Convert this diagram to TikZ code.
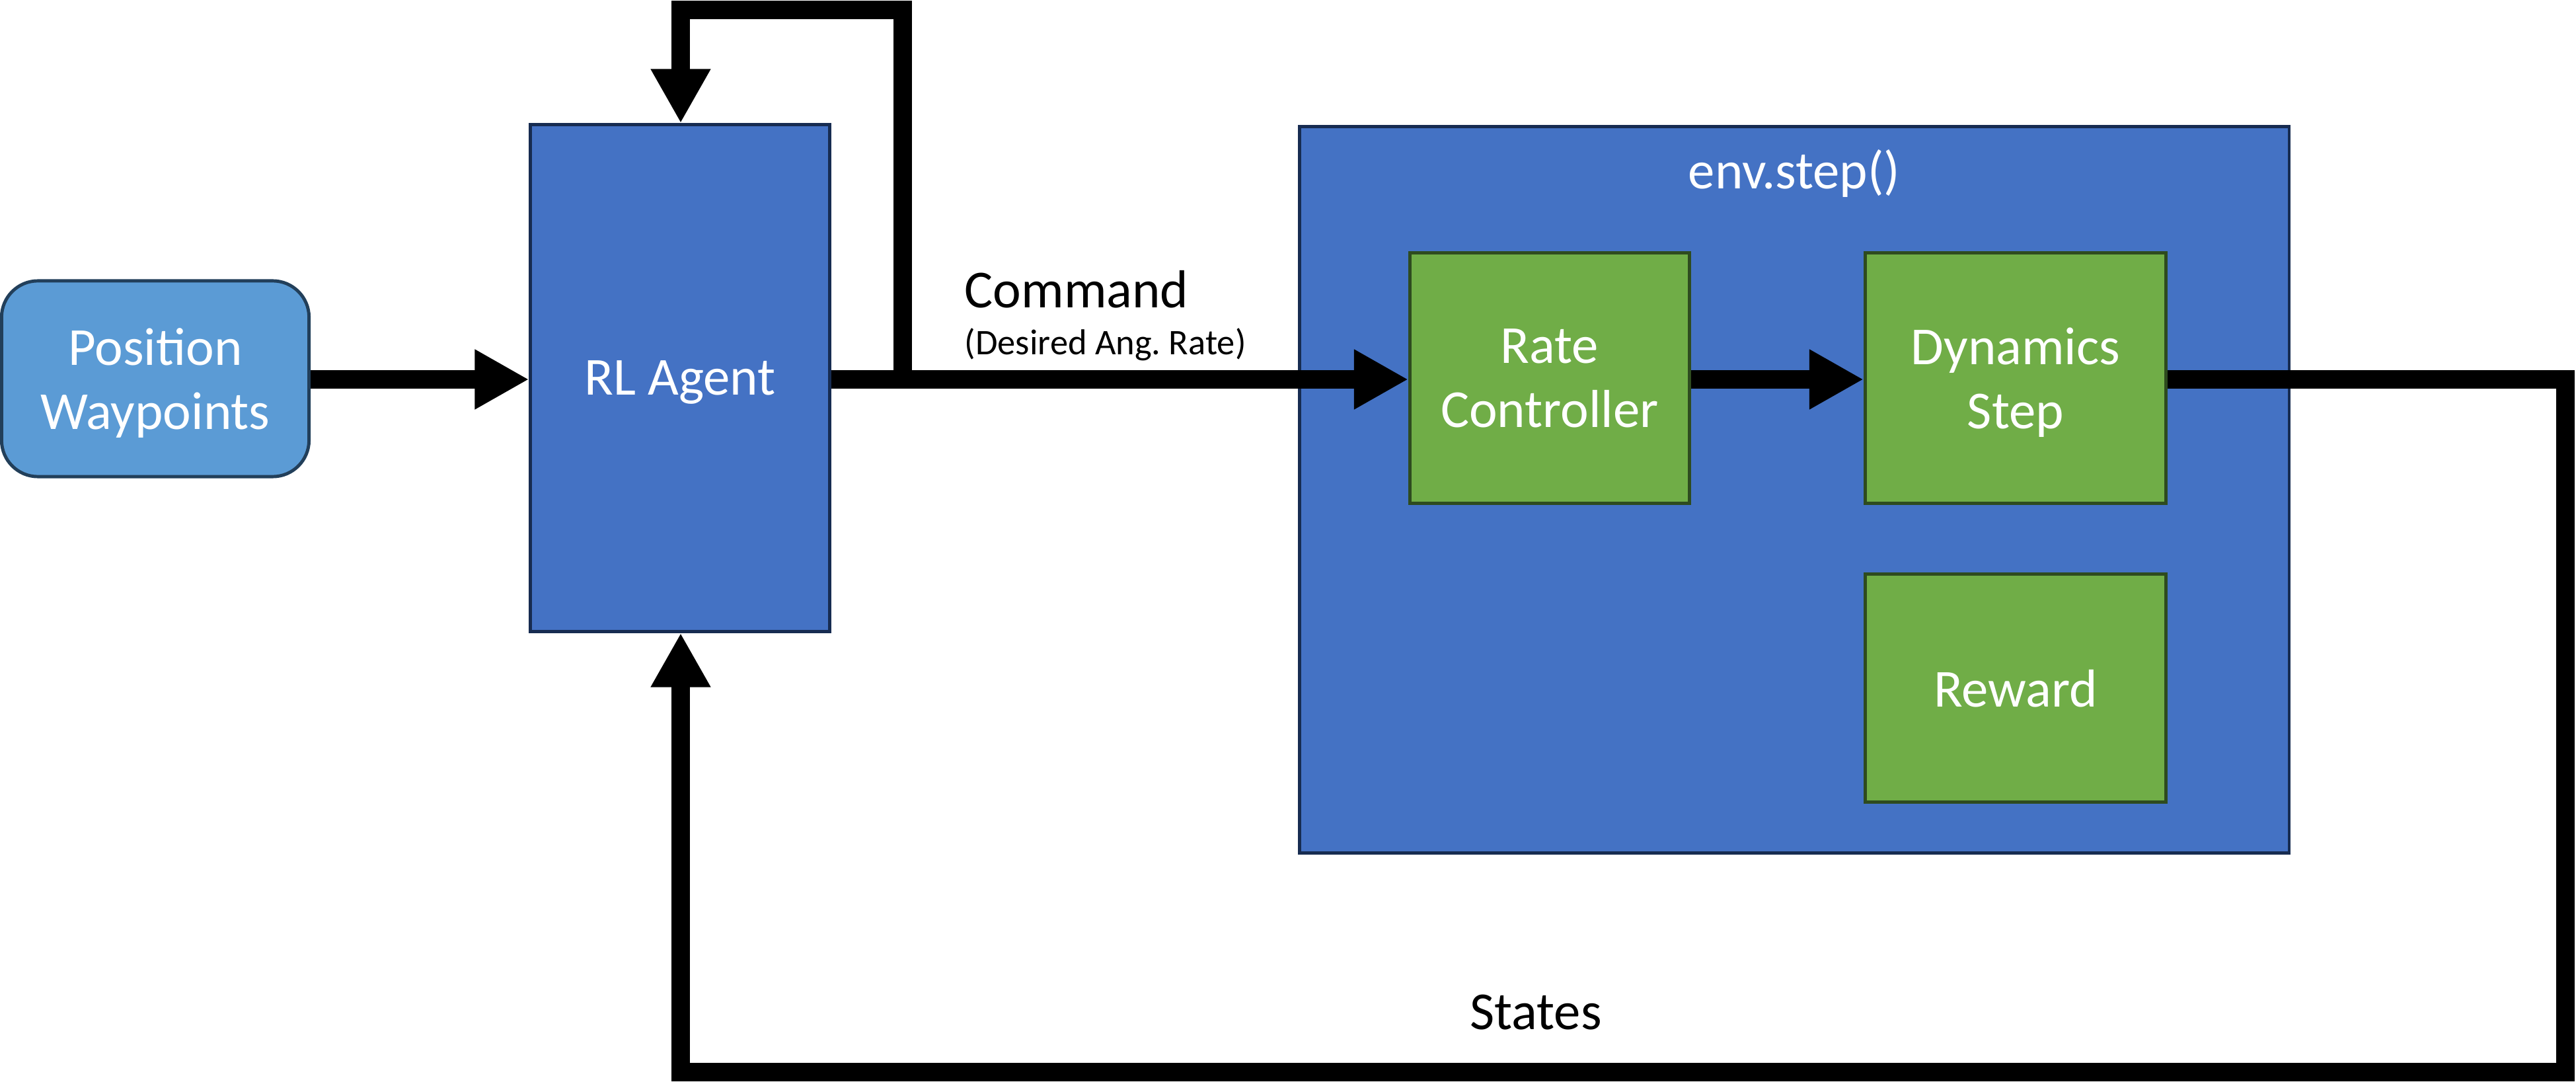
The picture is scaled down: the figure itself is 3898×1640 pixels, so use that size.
\documentclass[tikz,border=0pt]{standalone}
\usepackage{fontspec}
\setmainfont{Carlito}
\usetikzlibrary{arrows.meta}
\definecolor{agentblue}{HTML}{4472C4}
\definecolor{agentedge}{HTML}{172C51}
\definecolor{wpblue}{HTML}{5B9BD5}
\definecolor{wpedge}{HTML}{223F5A}
\definecolor{boxgreen}{HTML}{70AD47}
\definecolor{greenedge}{HTML}{2E4B1F}
\frenchspacing
\begin{document}
\begin{tikzpicture}[x=0.01cm,y=-0.01cm,
  lbl/.style={font=\fontsize{23}{27.6}\selectfont, text=white, align=center},
  bluebox/.style={lbl, draw=agentedge, fill=agentblue, line width=1.4pt, inner sep=0pt, text depth=0pt},
  wpbox/.style={lbl, draw=wpedge, fill=wpblue, line width=1.4pt, inner sep=0pt, rounded corners=0.55cm, text depth=0pt},
  greenbox/.style={lbl, draw=greenedge, fill=boxgreen, line width=1.4pt, inner sep=0pt, text depth=0pt},
  wire/.style={line width=8pt, black},
  conn/.style={wire, -{Triangle[length=0.82cm,width=0.85cm]}},
  plain/.style={font=\fontsize{23}{27.6}\selectfont, text=black, inner sep=0pt},
  small/.style={font=\fontsize{15.5}{18}\selectfont, text=black, inner sep=0pt}]
\useasboundingbox (0,0) rectangle (3898,1640);

% boxes
\node[wpbox, minimum width=4.65cm, minimum height=2.96cm] (wp) at (235,573) {Position\\Waypoints};
\node[bluebox, minimum width=4.52cm, minimum height=7.66cm] (rl) at (1029,572) {RL Agent};
\node[bluebox, minimum width=14.97cm, minimum height=10.99cm] (env) at (2715,741) {};
\node[lbl, anchor=base] (envlbl) at (2715,286) {env.step()};
\node[greenbox, minimum width=4.23cm, minimum height=3.78cm] (rc) at (2345,572) {Rate\\Controller};
\node[greenbox, minimum width=4.55cm, minimum height=3.78cm] (ds) at (3050,572) {Dynamics\\Step};
\node[greenbox, minimum width=4.55cm, minimum height=3.45cm] (rw) at (3050,1041) {Reward};

% labels
\node[plain, anchor=base west] (cmd) at (1459,466) {Command};
\node[small, anchor=base west] (des) at (1459,537) {(Desired Ang. Rate)};
\node[plain, anchor=base] (states) at (2324,1557) {States};

% coordinates
\coordinate (br) at (1366,574);
\coordinate (tl) at (1030,15);
\coordinate (corner) at (3882,1622);

% connectors
\draw[conn] (wp.east |- 0,574) -- (rl.west |- 0,574);
\draw[conn] (rl.east |- 0,574) -- (rc.west |- 0,574);
\draw[conn] (br) |- (tl) -- (rl.north -| tl);
\draw[conn] (rc.east |- 0,574) -- (ds.west |- 0,574);
\draw[conn] (ds.east |- 0,574) -| (corner) -| (rl.south -| tl);
\end{tikzpicture}
\end{document}
